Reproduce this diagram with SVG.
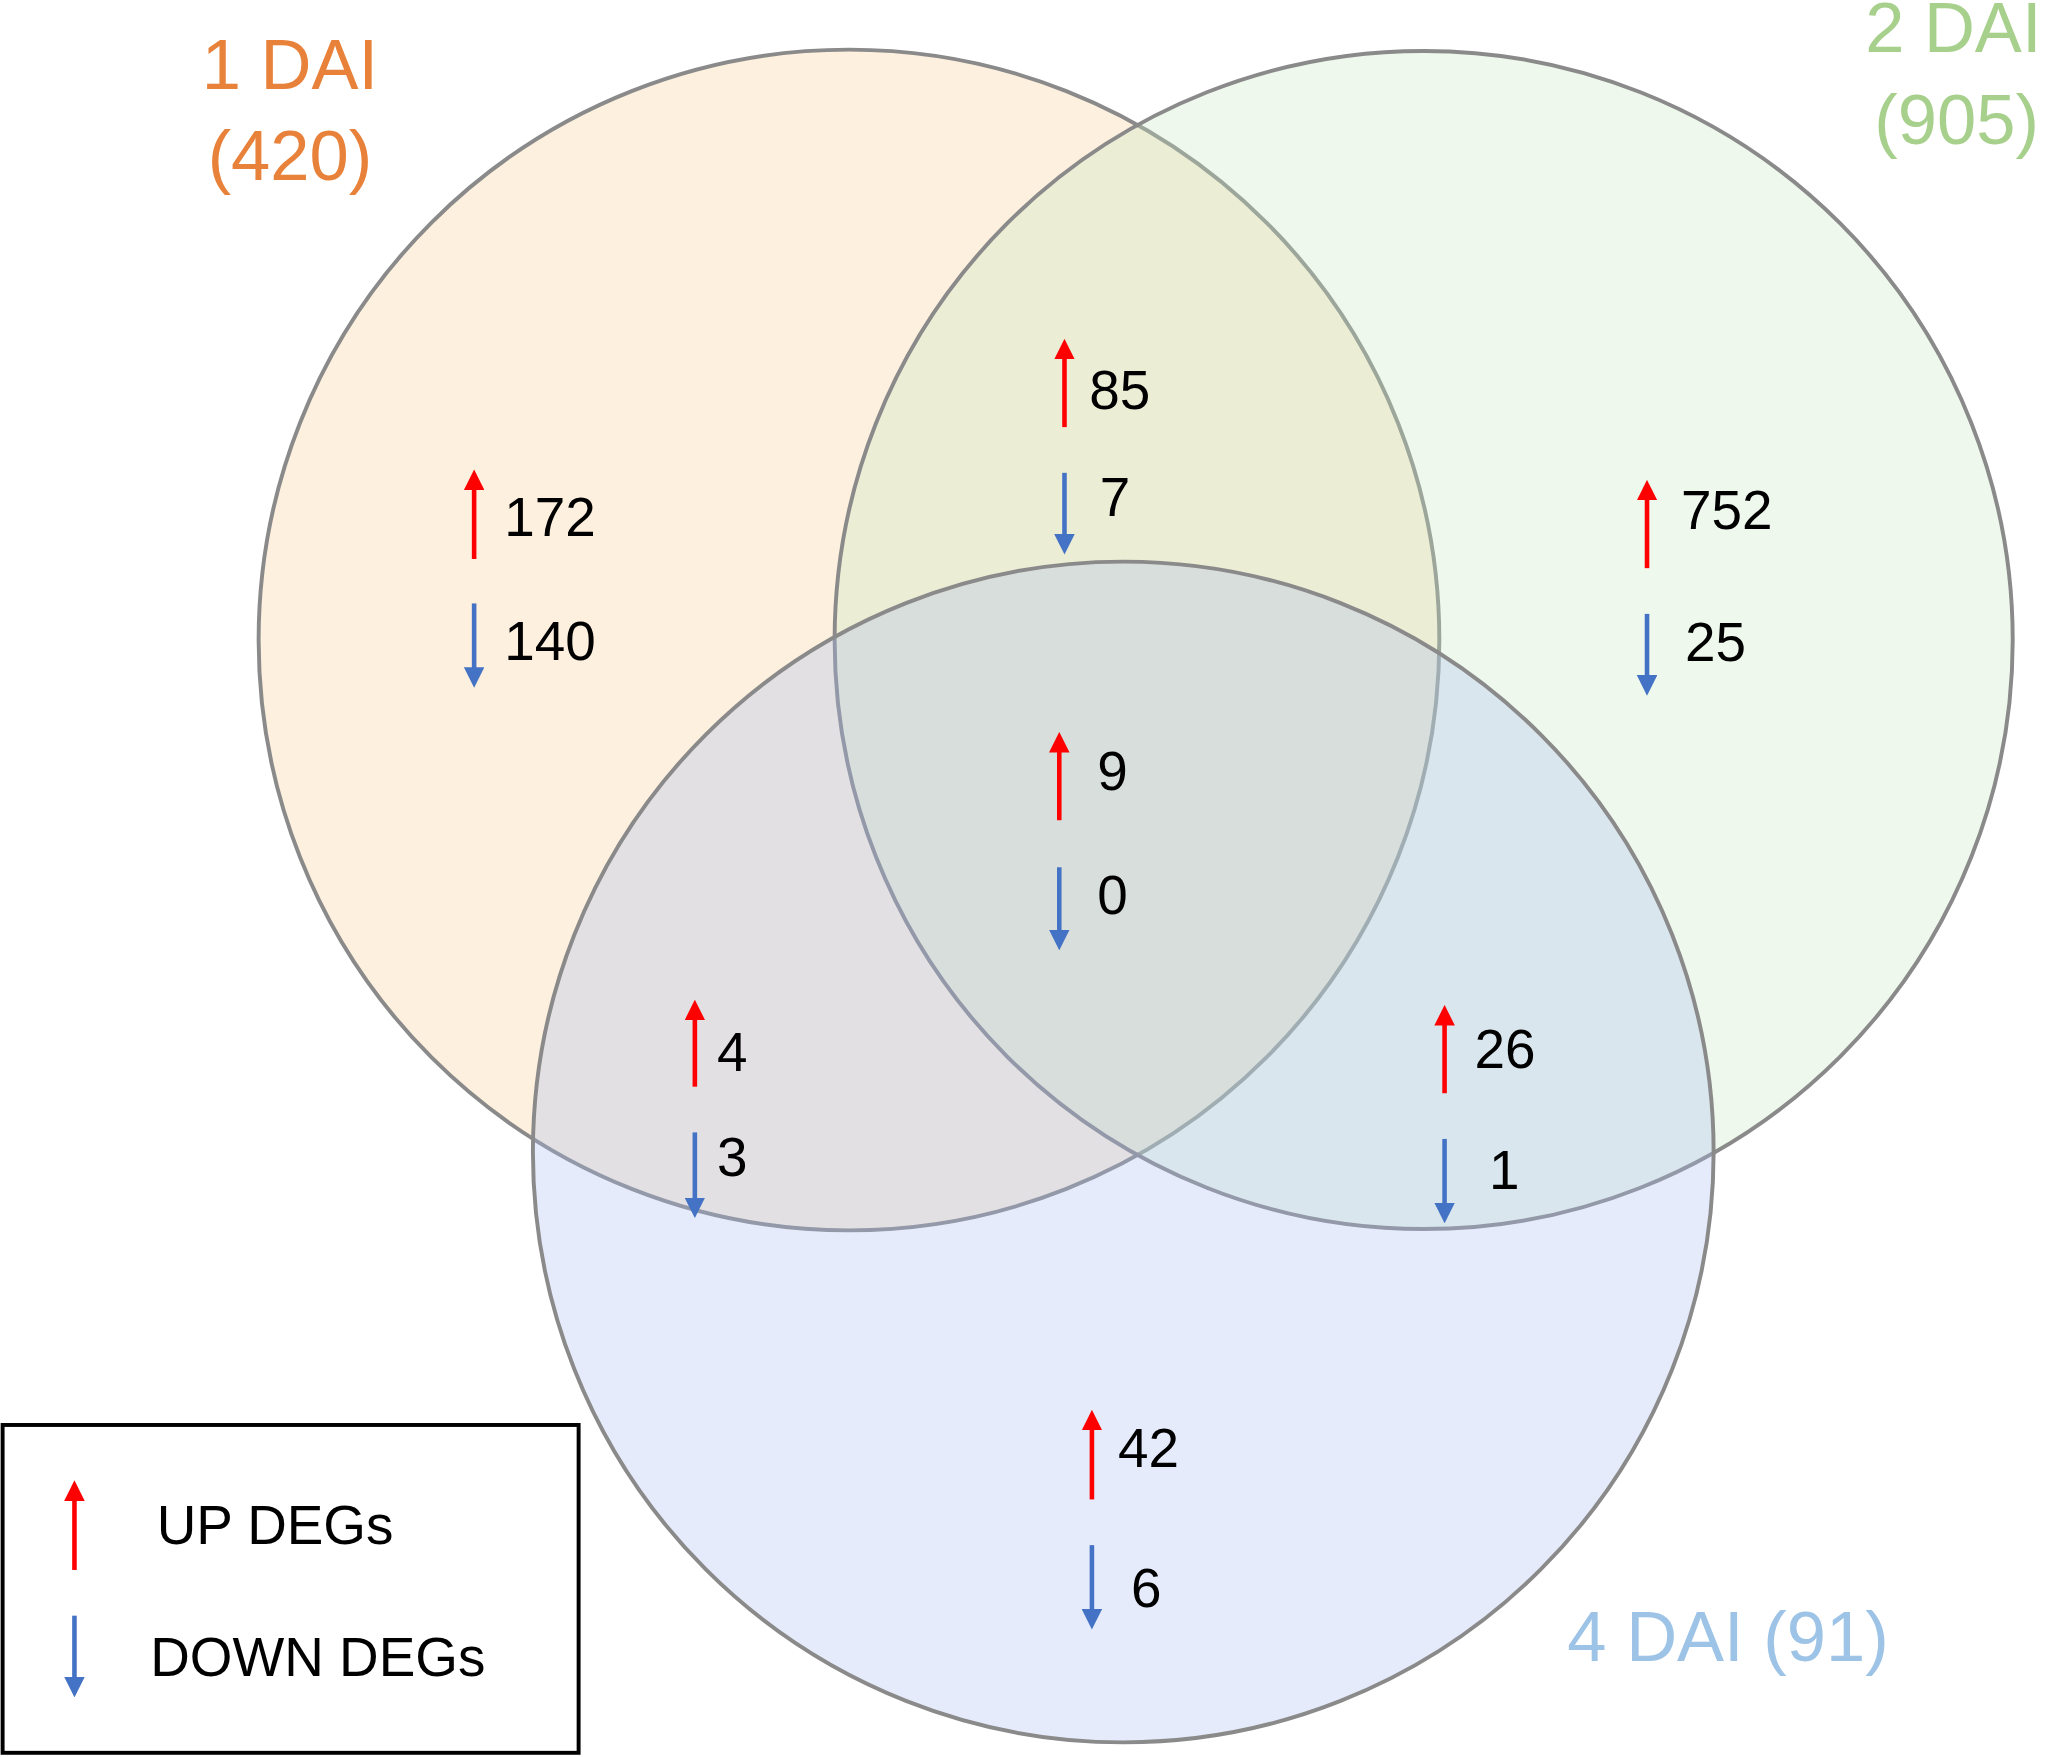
<svg xmlns="http://www.w3.org/2000/svg" width="2048" height="1757" viewBox="0 0 2048 1757">
<defs>
<style>
.c{stroke:#8a8a8a;stroke-width:3}
.n{font-family:"Liberation Sans",Arial,sans-serif;font-size:42px;fill:#000}
.t{font-family:"Liberation Sans",Arial,sans-serif;font-size:54px}
.u{stroke:#ff0000;stroke-width:3.5;marker-end:url(#hu)}
.d{stroke:#4472c4;stroke-width:3.5;marker-end:url(#hd)}
</style>
<marker id="hu" viewBox="0 0 10 10" refX="2" refY="5" markerWidth="4.5" markerHeight="4.5" orient="auto" markerUnits="strokeWidth"><path d="M0,0L10,5L0,10z" fill="#ff0000"/></marker>
<marker id="hd" viewBox="0 0 10 10" refX="2" refY="5" markerWidth="4.5" markerHeight="4.5" orient="auto" markerUnits="strokeWidth"><path d="M0,0L10,5L0,10z" fill="#4472c4"/></marker>
</defs>
<rect width="2048" height="1757" fill="#fff"/>
<g transform="scale(1.30612)">
<g id="set1"><circle class="c" cx="650" cy="490" r="452" fill="rgb(248,213,160)" fill-opacity="0.35"/></g>
<g id="set2"><circle class="c" cx="1090" cy="490" r="451" fill="rgb(200,232,192)" fill-opacity="0.3"/></g>
<g id="set3"><circle class="c" cx="860" cy="882" r="452" fill="rgb(170,190,240)" fill-opacity="0.3"/></g>
<g id="labels" class="t">
<text x="222" y="68" text-anchor="middle" fill="#e8823a">1 DAI</text>
<text x="222" y="138" text-anchor="middle" fill="#e8823a">(420)</text>
<text x="1428" y="40" fill="#a8d08d">2 DAI</text>
<text x="1435" y="110" fill="#a8d08d">(905)</text>
<text x="1200" y="1272" fill="#9dc3e6">4 DAI (91)</text>
</g>
<g id="legend">
<rect x="2" y="1091" width="441" height="251" fill="#fff" stroke="#000" stroke-width="3"/>
<text class="n" x="120" y="1182">UP DEGs</text>
<text class="n" x="115" y="1283">DOWN DEGs</text>
</g>
<g id="connectors">
<line class="u" x1="363" y1="428" x2="363" y2="372"/>
<line class="d" x1="363" y1="462" x2="363" y2="514"/>
<line class="u" x1="815" y1="327" x2="815" y2="272"/>
<line class="d" x1="815" y1="362" x2="815" y2="412"/>
<line class="u" x1="1261" y1="435" x2="1261" y2="380"/>
<line class="d" x1="1261" y1="470" x2="1261" y2="520"/>
<line class="u" x1="811" y1="628" x2="811" y2="573"/>
<line class="d" x1="811" y1="664" x2="811" y2="715"/>
<line class="u" x1="532" y1="832" x2="532" y2="778"/>
<line class="d" x1="532" y1="867" x2="532" y2="920"/>
<line class="u" x1="1106" y1="837" x2="1106" y2="782"/>
<line class="d" x1="1106" y1="872" x2="1106" y2="924"/>
<line class="u" x1="836" y1="1148" x2="836" y2="1092"/>
<line class="d" x1="836" y1="1183" x2="836" y2="1235"/>
<line class="u" x1="57" y1="1202" x2="57" y2="1146"/>
<line class="d" x1="57" y1="1237" x2="57" y2="1287"/>
</g>
<g id="counts" class="n">
<text x="386" y="410">172</text>
<text x="386" y="505">140</text>
<text x="834" y="313">85</text>
<text x="842" y="395">7</text>
<text x="1287" y="405">752</text>
<text x="1290" y="506">25</text>
<text x="840" y="605">9</text>
<text x="840" y="700">0</text>
<text x="549" y="820">4</text>
<text x="549" y="900">3</text>
<text x="1129" y="818">26</text>
<text x="1140" y="910">1</text>
<text x="856" y="1123">42</text>
<text x="866" y="1230">6</text>
</g>
</g>
</svg>
